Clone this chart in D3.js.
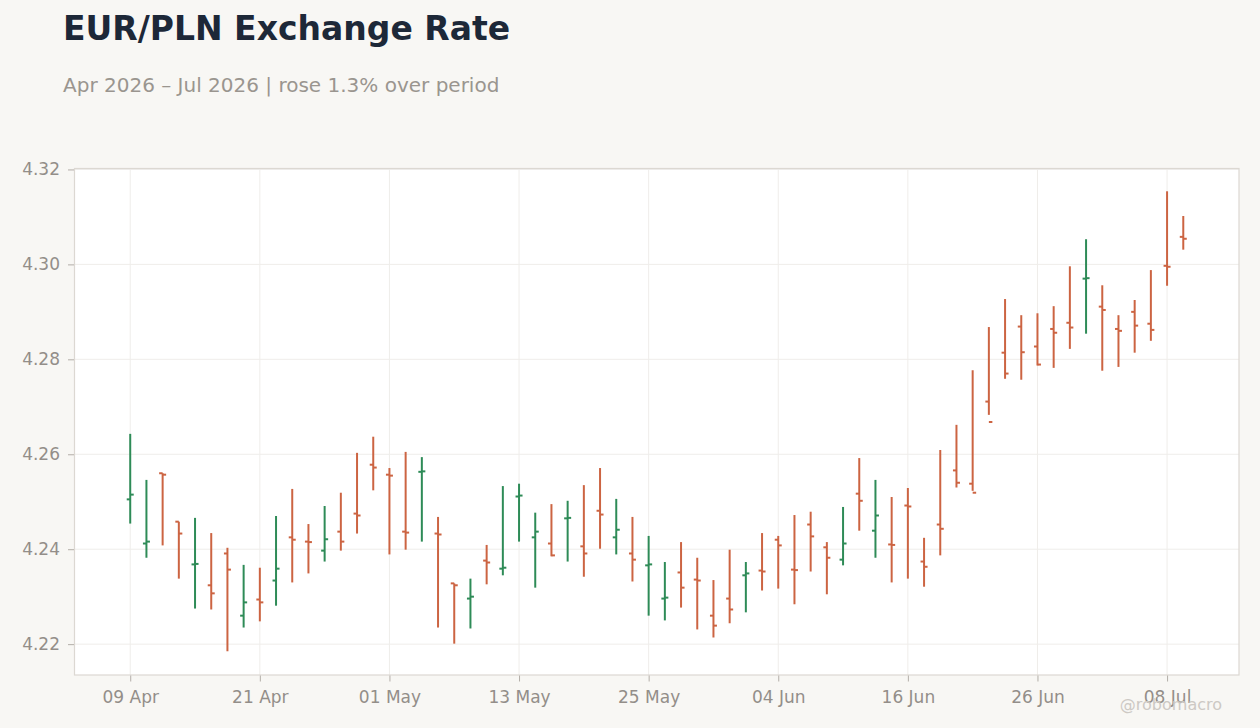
<!DOCTYPE html>
<html>
<head>
<meta charset="utf-8">
<script src="https://cdn.jsdelivr.net/npm/d3@7"></script>
<style>
  html, body { margin: 0; padding: 0; background: #f8f7f4; }
  svg { display: block; font-family: "DejaVu Sans", sans-serif; }
</style>
</head>
<body>
<svg id="chart" width="1260" height="728"></svg>
<script>
const dates = [
  "2026-04-09","2026-04-10","2026-04-13","2026-04-14","2026-04-15","2026-04-16","2026-04-17","2026-04-20",
  "2026-04-21","2026-04-22","2026-04-23","2026-04-24","2026-04-27","2026-04-28","2026-04-29","2026-04-30",
  "2026-05-01","2026-05-04","2026-05-05","2026-05-06","2026-05-07","2026-05-08","2026-05-11","2026-05-12",
  "2026-05-13","2026-05-14","2026-05-15","2026-05-18","2026-05-19","2026-05-20","2026-05-21","2026-05-22",
  "2026-05-25","2026-05-26","2026-05-27","2026-05-28","2026-05-29","2026-06-01","2026-06-02","2026-06-03",
  "2026-06-04","2026-06-05","2026-06-08","2026-06-09","2026-06-10","2026-06-11","2026-06-12","2026-06-15",
  "2026-06-16","2026-06-17","2026-06-18","2026-06-19","2026-06-22","2026-06-23","2026-06-24","2026-06-25",
  "2026-06-26","2026-06-29","2026-06-30","2026-07-01","2026-07-02","2026-07-03","2026-07-06","2026-07-07",
  "2026-07-08","2026-07-09"
];
const openVals = [
  4.2505,4.2412,4.2560,4.2458,4.2368,4.2324,4.2391,4.2260,4.2294,4.2334,4.2425,4.2416,4.2397,4.2437,4.2475,4.2578,
  4.2557,4.2437,4.2563,4.2433,4.2328,4.2296,4.2376,4.2359,4.2511,4.2425,4.2412,4.2465,4.2406,4.2481,4.2425,4.2391,
  4.2366,4.2296,4.2351,4.2336,4.2260,4.2296,4.2345,4.2355,4.2420,4.2357,4.2452,4.2404,4.2378,4.2517,4.2439,4.2410,
  4.2492,4.2374,4.2452,4.2566,4.2538,4.2711,4.2814,4.2869,4.2827,4.2864,4.2877,4.2970,4.2911,4.2864,4.2900,4.2875,
  4.2997,4.3058
];
const highVals = [
  4.2643,4.2546,4.2560,4.2458,4.2466,4.2434,4.2403,4.2367,4.2361,4.2470,4.2527,4.2453,4.2491,4.2519,4.2603,4.2637,
  4.2571,4.2605,4.2594,4.2468,4.2328,4.2338,4.2409,4.2533,4.2538,4.2477,4.2495,4.2502,4.2535,4.2571,4.2506,4.2468,
  4.2428,4.2373,4.2415,4.2382,4.2335,4.2399,4.2373,4.2434,4.2428,4.2472,4.2479,4.2415,4.2489,4.2592,4.2546,4.2510,
  4.2529,4.2424,4.2609,4.2662,4.2777,4.2868,4.2927,4.2893,4.2897,4.2912,4.2996,4.3053,4.2956,4.2893,4.2925,4.2988,
  4.3154,4.3102
];
const lowVals = [
  4.2454,4.2382,4.2408,4.2338,4.2275,4.2273,4.2185,4.2235,4.2248,4.2281,4.2330,4.2349,4.2374,4.2397,4.2433,4.2524,
  4.2389,4.2399,4.2416,4.2235,4.2201,4.2233,4.2326,4.2345,4.2416,4.2319,4.2385,4.2374,4.2342,4.2401,4.2389,4.2332,
  4.2260,4.2250,4.2277,4.2231,4.2214,4.2244,4.2267,4.2313,4.2317,4.2284,4.2353,4.2305,4.2366,4.2439,4.2382,4.2330,
  4.2338,4.2321,4.2387,4.2530,4.2523,4.2683,4.2759,4.2757,4.2787,4.2782,4.2822,4.2854,4.2776,4.2784,4.2814,4.2839,
  4.2955,4.3031
];
const closeVals = [
  4.2515,4.2416,4.2557,4.2433,4.2369,4.2307,4.2357,4.2288,4.2288,4.2359,4.2420,4.2415,4.2421,4.2416,4.2471,4.2572,
  4.2555,4.2435,4.2564,4.2431,4.2324,4.2300,4.2372,4.2361,4.2513,4.2437,4.2387,4.2466,4.2391,4.2473,4.2441,4.2378,
  4.2368,4.2298,4.2319,4.2334,4.2239,4.2273,4.2349,4.2353,4.2408,4.2356,4.2427,4.2382,4.2412,4.2502,4.2471,4.2409,
  4.2490,4.2363,4.2443,4.2540,4.2519,4.2668,4.2770,4.2815,4.2789,4.2856,4.2867,4.2971,4.2904,4.2860,4.2871,4.2862,
  4.2995,4.3054
];
const xTickDates = ["2026-04-09","2026-04-21","2026-05-01","2026-05-13","2026-05-25","2026-06-04","2026-06-16","2026-06-26","2026-07-08"];
const xTickLabels = ["09 Apr","21 Apr","01 May","13 May","25 May","04 Jun","16 Jun","26 Jun","08 Jul"];
const yTicks = [4.22, 4.24, 4.26, 4.28, 4.30, 4.32];
const yDomain = [4.2135, 4.3202];

const titleText = "EUR/PLN Exchange Rate";
const subtitleText = "Apr 2026 \u2013 Jul 2026 | rose 1.3% over period";
const watermark = "@robomacro";

(function () {
const bars = dates.map((d, i) => ({ d, o: openVals[i], h: highVals[i], l: lowVals[i], c: closeVals[i] }));

const svg = d3.select("#chart");
const pL = 74.5, pR = 1239, pT = 168.5, pB = 675;

const x = d3.scalePoint().domain(dates).range([pL, pR]).padding(3.44);
const y = d3.scaleLinear().domain(yDomain).range([pB, pT]);

const upColor = "#2e8b57", downColor = "#cc6442";
const gridColor = "#efedea", frameColor = "#dcd8d2", textColor = "#938e89";

svg.append("text").attr("x", 63).attr("y", 40)
  .attr("font-size", 33).attr("font-weight", "bold").attr("fill", "#1d2838")
  .text(titleText);
svg.append("text").attr("x", 63).attr("y", 92)
  .attr("font-size", 20).attr("fill", "#9a958f")
  .text(subtitleText);

svg.append("rect").attr("x", pL).attr("y", pT)
  .attr("width", pR - pL).attr("height", pB - pT)
  .attr("fill", "#ffffff");

svg.append("g").selectAll("line").data(yTicks).join("line")
  .attr("x1", pL).attr("x2", pR)
  .attr("y1", d => y(d)).attr("y2", d => y(d))
  .attr("stroke", gridColor).attr("stroke-width", 1);
svg.append("g").selectAll("line").data(xTickDates).join("line")
  .attr("x1", d => x(d)).attr("x2", d => x(d))
  .attr("y1", pT).attr("y2", pB)
  .attr("stroke", gridColor).attr("stroke-width", 1);

svg.append("rect").attr("x", pL).attr("y", pT)
  .attr("width", pR - pL).attr("height", pB - pT)
  .attr("fill", "none").attr("stroke", frameColor).attr("stroke-width", 1.2);

const yAxis = d3.axisLeft(y).tickValues(yTicks).tickFormat(d3.format(".2f")).tickSize(6).tickPadding(8);
const gy = svg.append("g").attr("transform", `translate(${pL - 0.5},0)`).call(yAxis);
gy.select(".domain").remove();
gy.selectAll(".tick line").attr("stroke", "#b3aea8");
gy.selectAll(".tick text").attr("fill", textColor).attr("font-size", 17)
  .attr("font-family", "DejaVu Sans, sans-serif");

const xAxis = d3.axisBottom(x).tickValues(xTickDates)
  .tickFormat((d, i) => xTickLabels[i]).tickSize(6).tickPadding(9);
const gx = svg.append("g").attr("transform", `translate(0,${pB + 0.5})`).call(xAxis);
gx.select(".domain").remove();
gx.selectAll(".tick line").attr("stroke", "#b3aea8");
gx.selectAll(".tick text").attr("fill", textColor).attr("font-size", 17)
  .attr("font-family", "DejaVu Sans, sans-serif");

const g = svg.append("g");
const col = d => d.c >= d.o ? upColor : downColor;
g.selectAll("line.hl").data(bars).join("line").attr("class", "hl")
  .attr("x1", d => x(d.d)).attr("x2", d => x(d.d))
  .attr("y1", d => y(d.h)).attr("y2", d => y(d.l))
  .attr("stroke", col).attr("stroke-width", 2);
g.selectAll("line.op").data(bars).join("line").attr("class", "op")
  .attr("x1", d => x(d.d) - 3.5).attr("x2", d => x(d.d))
  .attr("y1", d => y(d.o)).attr("y2", d => y(d.o))
  .attr("stroke", col).attr("stroke-width", 2);
g.selectAll("line.cl").data(bars).join("line").attr("class", "cl")
  .attr("x1", d => x(d.d)).attr("x2", d => x(d.d) + 3.5)
  .attr("y1", d => y(d.c)).attr("y2", d => y(d.c))
  .attr("stroke", col).attr("stroke-width", 2);

svg.append("text").attr("x", 1222).attr("y", 710).attr("text-anchor", "end")
  .attr("font-size", 16).attr("fill", "#cdc9c4").text(watermark);
})();
</script>
</body>
</html>
